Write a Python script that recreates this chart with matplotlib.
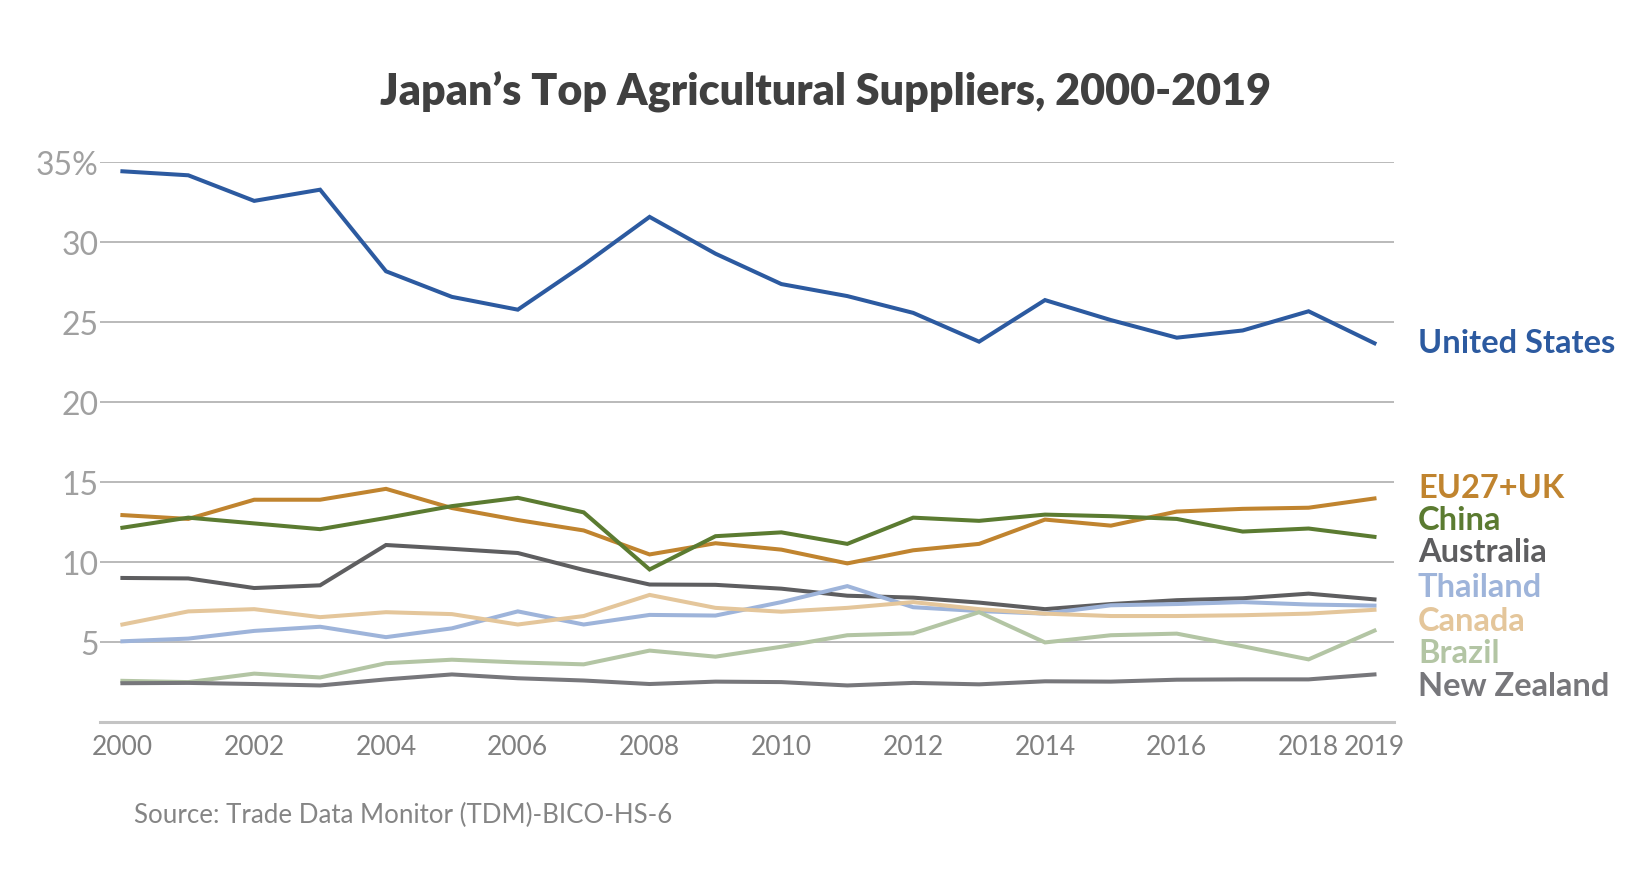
import matplotlib
matplotlib.use("Agg")
import matplotlib.pyplot as plt

years = list(range(2000, 2020))

united_states = [34.45, 34.2, 32.6, 33.3, 28.2, 26.6, 25.8, 28.6, 31.6, 29.3,
                 27.4, 26.65, 25.6, 23.8, 26.4, 25.15, 24.05, 24.5, 25.7, 23.7]
eu27_uk = [12.96, 12.72, 13.92, 13.92, 14.6, 13.4, 12.65, 12.0, 10.5, 11.2,
           10.8, 9.94, 10.76, 11.16, 12.68, 12.3, 13.18, 13.35, 13.42, 14.0]
china = [12.17, 12.8, 12.44, 12.08, 12.78, 13.52, 14.04, 13.13, 9.56, 11.64,
         11.88, 11.16, 12.8, 12.6, 12.99, 12.89, 12.72, 11.93, 12.12, 11.6]
australia = [9.03, 9.0, 8.4, 8.57, 11.09, 10.85, 10.59, 9.53, 8.62, 8.6,
             8.36, 7.92, 7.8, 7.49, 7.08, 7.4, 7.64, 7.76, 8.05, 7.69]
thailand = [5.07, 5.24, 5.72, 5.98, 5.33, 5.88, 6.94, 6.12, 6.72, 6.68,
            7.52, 8.52, 7.2, 6.96, 6.8, 7.32, 7.4, 7.52, 7.37, 7.3]
canada = [6.12, 6.94, 7.08, 6.58, 6.89, 6.77, 6.12, 6.65, 7.97, 7.16,
          6.92, 7.16, 7.52, 7.08, 6.8, 6.65, 6.65, 6.7, 6.8, 7.04]
brazil = [2.6, 2.52, 3.05, 2.81, 3.7, 3.92, 3.75, 3.63, 4.49, 4.11,
          4.73, 5.45, 5.57, 6.89, 5.0, 5.45, 5.55, 4.76, 3.94, 5.74]
new_zealand = [2.45, 2.47, 2.4, 2.31, 2.69, 3.0, 2.76, 2.62, 2.4, 2.55,
               2.52, 2.31, 2.47, 2.38, 2.57, 2.55, 2.67, 2.69, 2.69, 3.0]

series_names = ["United States", "EU27+UK", "China", "Australia",
                "Thailand", "Canada", "Brazil", "New Zealand"]
series_values = [united_states, eu27_uk, china, australia,
                 thailand, canada, brazil, new_zealand]
label_y = [23.75, 14.67, 12.7, 10.7, 8.49, 6.38, 4.34, 2.3]

x_tick_years = [2000, 2002, 2004, 2006, 2008, 2010, 2012, 2014, 2016, 2018, 2019]
y_ticks = [5, 10, 15, 20, 25, 30, 35]
y_tick_labels = ["5", "10", "15", "20", "25", "30", "35%"]

colors = ["#2C5AA0", "#C0842F", "#5B7B31", "#5E5E60",
          "#9EB4DA", "#E4C69B", "#B3C5A4", "#77777B"]

plt.rcParams['font.family'] = ['Lato', 'DejaVu Sans']

fig = plt.figure(figsize=(16.5, 8.79), dpi=100)
ax = fig.add_axes([0.0606, 0.177, 0.845 - 0.0606, 0.814 - 0.177])

draw_order = [6, 5, 4, 7, 3, 1, 2, 0]
for i in draw_order:
    ax.plot(years, series_values[i], color=colors[i], lw=2.9,
            solid_joinstyle='miter', zorder=3 + i * 0.01)

for name, yv, c in zip(series_names, label_y, colors):
    ax.text(2019.66, yv, name, color=c, fontsize=23.5, fontweight='bold',
            va='center', ha='left', clip_on=False)

ax.set_xlim(1999.66, 2019.3)
ax.set_ylim(0, 35)
ax.set_yticks(y_ticks)
ax.set_yticklabels(y_tick_labels)
ax.set_xticks(x_tick_years)
ax.set_xticklabels([str(y) for y in x_tick_years])
ax.tick_params(axis='y', length=0, pad=1, labelsize=23, labelcolor='#A0A0A0')
ax.tick_params(axis='x', length=0, pad=8, labelsize=19, labelcolor='#808080')

ax.grid(axis='y', color='#B4B4B4', lw=1.3)
ax.set_axisbelow(True)
for s in ['top', 'right', 'left']:
    ax.spines[s].set_visible(False)
ax.spines['bottom'].set_color('#C4C4C4')
ax.spines['bottom'].set_linewidth(2.2)

fig.text(0.5, 0.895, "Japan\u2019s Top Agricultural Suppliers, 2000-2019",
         ha='center', va='center', fontsize=31, fontweight='heavy', color='#404040')
fig.text(0.081, 0.072, "Source: Trade Data Monitor (TDM)-BICO-HS-6",
         ha='left', va='center', fontsize=18.6, color='#858585')

fig.savefig("out.png", dpi=100)
